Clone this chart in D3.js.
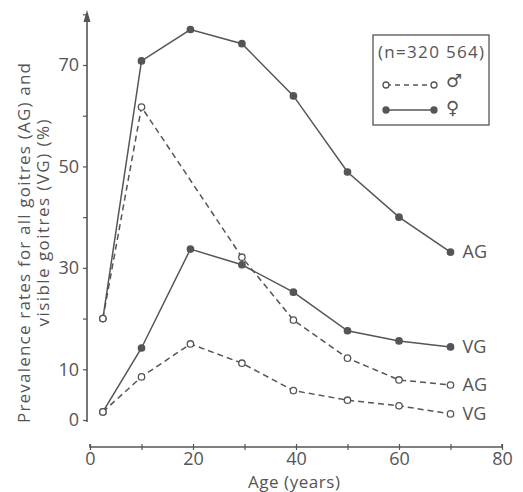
<!DOCTYPE html>
<html>
<head>
<meta charset="utf-8">
<script src="https://cdn.jsdelivr.net/npm/d3@7"></script>
<style>
    body { margin: 0; background: #fff; }
    svg text { font-family: "Open Sans", "DejaVu Sans", sans-serif; fill: #555; }
</style>
</head>
<body>
<div id="chart"></div>
<script>

// age groups (midpoints)
var ages = [2.5, 10, 19.5, 29.5, 39.5, 50, 60, 70];

// prevalence (%), null = no marker drawn
var femaleAG = [20, 70.8, 77, 74.2, 63.9, 48.9, 40, 33.1];
var femaleVG = [1.6, 14.2, 33.7, 30.6, 25.2, 17.6, 15.6, 14.4];
var maleAG = [20, 61.7, null, 32.1, 19.7, 12.2, 7.9, 6.9];
var maleVG = [1.6, 8.5, 15, 11.2, 5.8, 3.9, 2.8, 1.2];

var xTicks = [0, 20, 40, 60, 80];
var yTickLabels = [0, 10, 30, 50, 70];
var legendTitle = "(n=320 564)";

var ink = "#555";

var width = 523, height = 492;

var svg = d3.select("#chart").append("svg")
    .attr("width", width)
    .attr("height", height);

var xScale = d3.scaleLinear().domain([0, 80]).range([90, 502]);
var yScale = d3.scaleLinear().domain([0, 70]).range([420, 65]);

// y axis: plain line with arrow, small ticks every 10
var yAxis = d3.axisLeft(yScale)
    .tickValues(d3.range(0, 81, 10))
    .tickSize(4)
    .tickFormat(function (d) { return yTickLabels.indexOf(d) >= 0 ? d : ""; });

var gy = svg.append("g")
    .attr("transform", "translate(87,0)")
    .call(yAxis);
gy.select(".domain").remove();
gy.append("line")
    .attr("x1", 0).attr("x2", 0)
    .attr("y1", yScale(0) + 2).attr("y2", 14)
    .attr("stroke", ink).attr("stroke-width", 1.6);
gy.append("path")
    .attr("d", "M-3.5,22 L0,10 L3.5,22 Z")
    .attr("fill", ink);
gy.selectAll(".tick line").attr("stroke", ink).attr("stroke-width", 1.2);
gy.selectAll(".tick text")
    .attr("x", -8)
    .style("font-size", "18px");

// x axis sits below, detached from the y axis
var xAxis = d3.axisBottom(xScale)
    .tickValues(d3.range(0, 81, 10))
    .tickSize(4)
    .tickFormat(function (d) { return xTicks.indexOf(d) >= 0 ? d : ""; });

var gx = svg.append("g")
    .attr("transform", "translate(0,447)")
    .call(xAxis);
gx.select(".domain").attr("stroke", ink).attr("stroke-width", 1.6)
    .attr("d", "M" + xScale(0) + ",-3V0H" + xScale(80) + "V-3");
gx.selectAll(".tick line").attr("y1", -3).attr("y2", 3).attr("stroke", ink).attr("stroke-width", 1.2);
gx.selectAll(".tick text")
    .attr("y", 5)
    .style("font-size", "18px");

// axis titles
svg.append("text")
    .attr("x", 294).attr("y", 488)
    .attr("text-anchor", "middle")
    .attr("textLength", 92)
    .style("font-size", "17px")
    .text("Age (years)");

svg.append("text")
    .attr("transform", "translate(30,243) rotate(-90)")
    .attr("text-anchor", "middle")
    .attr("textLength", 360)
    .style("font-size", "17px")
    .text("Prevalence rates for all goitres (AG) and");

svg.append("text")
    .attr("transform", "translate(49,223) rotate(-90)")
    .attr("text-anchor", "middle")
    .attr("textLength", 207)
    .style("font-size", "17px")
    .text("visible goitres (VG) (%)");

// series
var series = [
    { name: "AG", values: femaleAG, female: true },
    { name: "VG", values: femaleVG, female: true },
    { name: "AG", values: maleAG, female: false },
    { name: "VG", values: maleVG, female: false }
];

var line = d3.line()
    .x(function (d) { return xScale(d[0]); })
    .y(function (d) { return yScale(d[1]); });

series.forEach(function (s) {
    var pts = ages.map(function (a, i) { return [a, s.values[i]]; });
    var drawn = pts.filter(function (d) { return d[1] !== null; });

    svg.append("path")
        .datum(drawn)
        .attr("d", line)
        .attr("fill", "none")
        .attr("stroke", ink)
        .attr("stroke-width", 1.5)
        .attr("stroke-dasharray", s.female ? null : "6,4");

    svg.append("g").selectAll("circle")
        .data(drawn)
        .enter().append("circle")
        .attr("cx", function (d) { return xScale(d[0]); })
        .attr("cy", function (d) { return yScale(d[1]); })
        .attr("r", 3.2)
        .attr("fill", s.female ? ink : "#fff")
        .attr("stroke", ink)
        .attr("stroke-width", 1.3);

    var last = drawn[drawn.length - 1];
    svg.append("text")
        .attr("x", xScale(last[0]) + 12)
        .attr("y", yScale(last[1]))
        .attr("dy", "0.35em")
        .style("font-size", "18px")
        .text(s.name);
});

// legend
var legend = svg.append("g");
legend.append("rect")
    .attr("x", 373).attr("y", 35)
    .attr("width", 116).attr("height", 90)
    .attr("fill", "#fff")
    .attr("stroke", ink).attr("stroke-width", 1.3);
legend.append("text")
    .attr("x", 431).attr("y", 58)
    .attr("text-anchor", "middle")
    .attr("textLength", 106)
    .style("font-size", "17px")
    .text(legendTitle);

var legendRows = [
    { y: 85, female: false, sym: "\u2642", dy: -4 },
    { y: 110, female: true, sym: "\u2640", dy: -2 }
];
legendRows.forEach(function (r) {
    legend.append("line")
        .attr("x1", 386).attr("x2", 434)
        .attr("y1", r.y).attr("y2", r.y)
        .attr("stroke", ink).attr("stroke-width", 1.5)
        .attr("stroke-dasharray", r.female ? null : "5,4");
    legend.selectAll(null)
        .data([386, 434])
        .enter().append("circle")
        .attr("cx", function (d) { return d; })
        .attr("cy", r.y)
        .attr("r", 3)
        .attr("fill", r.female ? ink : "#fff")
        .attr("stroke", ink).attr("stroke-width", 1.3);
    legend.append("text")
        .attr("x", 446).attr("y", r.y + r.dy)
        .attr("dy", "0.35em")
        .style("font-size", "18px")
        .text(r.sym);
});

</script>
</body>
</html>
